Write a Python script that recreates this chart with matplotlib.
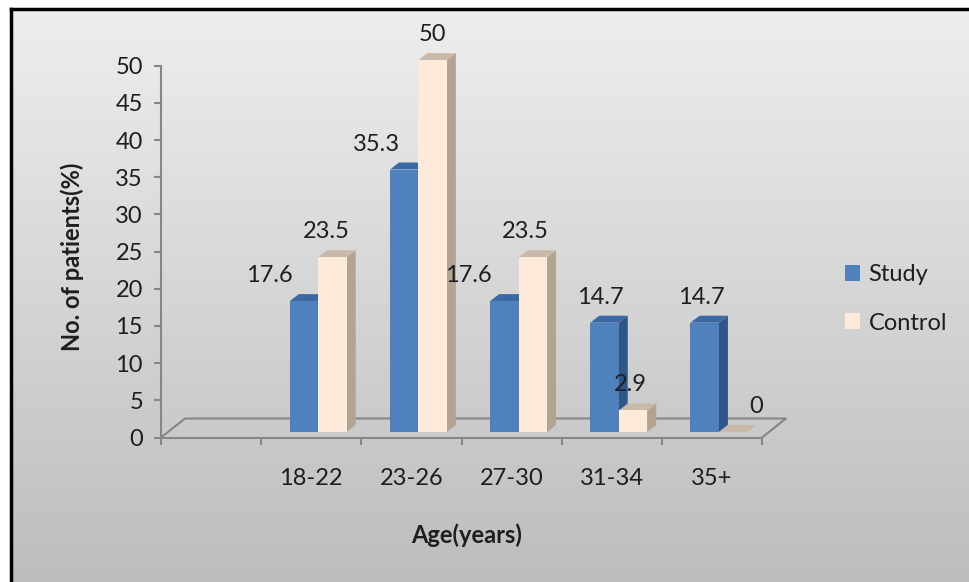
import numpy as np
import matplotlib
matplotlib.use("Agg")
import matplotlib.pyplot as plt
from matplotlib.patches import Polygon, Patch
from matplotlib.transforms import ScaledTranslation

plt.rcParams['font.family'] = ['Lato', 'DejaVu Sans']

#####################################################################
categories = ['18-22', '23-26', '27-30', '31-34', '35+']
study = [17.6, 35.3, 17.6, 14.7, 14.7]
control = [23.5, 50, 23.5, 2.9, 0]
series_names = ['Study', 'Control']

#####################################################################
W, H, DPI = 969, 582, 100
fontsize = 17
txtcolor = '#1e1e1e'
axcolor = '#868686'

# (front, top, side) colours for each series
faces = [('#4F81BD', '#3C69A3', '#2E5687'),
         ('#FDEADA', '#C9B9A8', '#B3A393')]

# per-label horizontal nudges in px (Excel moves a few labels sideways)
nudge = [[-34, -5], [-27, 1], [-35, -6], [-3, -2], [-2, 24]]

#####################################################################
fig = plt.figure(figsize=(W / DPI, H / DPI), dpi=DPI)
fig.patch.set_facecolor('white')

# gradient chart area with black frame on left/top
bg = fig.add_axes([11 / W, 0, 1 - 11 / W, 1 - 9 / H])
grad = np.linspace(0, 1, 256).reshape(-1, 1)
cmap = matplotlib.colors.LinearSegmentedColormap.from_list('bg', ['#eeeeee', '#bdbdbd'])
bg.imshow(grad, aspect='auto', cmap=cmap, extent=[0, 1, 1, 0])
bg.set_xticks([])
bg.set_yticks([])
for s in ['right', 'bottom']:
    bg.spines[s].set_visible(False)
for s in ['left', 'top']:
    bg.spines[s].set_color('black')
    bg.spines[s].set_linewidth(2.5)

#####################################################################
x0, x1 = 161, 762
y0, y1 = 437.5, 65.7
ax = fig.add_axes([x0 / W, 1 - y0 / H, (x1 - x0) / W, (y0 - y1) / H])
ax.patch.set_alpha(0)
n = len(categories)
ax.set_xlim(-1.5, n - 0.5)
ax.set_ylim(0, 50)

pxx = (x1 - x0) / (n + 1)      # px per category
pxy = (y0 - y1) / 50.0         # px per unit

# floor outline (depth 24 px right, 19 px up)
fdx, fdy = 24 / pxx, 19 / pxy
ax.plot([-1.5, -1.5 + fdx, n - 0.5 + fdx, n - 0.5], [0, fdy, fdy, 0],
        color=axcolor, lw=1.5, clip_on=False, zorder=1)

# bars sit half-way into the floor
shift = ax.transData + ScaledTranslation(7 / DPI, 5.5 / DPI, fig.dpi_scale_trans)
bw = 0.284
ddx, ddy = 9 / pxx, 7 / pxy

for i in range(n):
    for k, vals in enumerate([study, control]):
        v = vals[i]
        left = i - bw + k * bw
        right = left + bw
        front, top, side = faces[k]
        ax.add_patch(Polygon([[right, 0], [right + ddx, ddy], [right + ddx, v + ddy], [right, v]],
                             closed=True, fc=side, ec='none', transform=shift, clip_on=False, zorder=3))
        ax.add_patch(Polygon([[left, v], [left + ddx, v + ddy], [right + ddx, v + ddy], [right, v]],
                             closed=True, fc=top, ec='none', transform=shift, clip_on=False, zorder=3))
        ax.bar(left, v, width=bw, align='edge', color=front, transform=shift, clip_on=False, zorder=3)
        ax.annotate(f"{v:g}", xy=(left + bw / 2, v), xycoords=shift,
                    xytext=((nudge[i][k] - 1) * 72 / DPI, 25.5 * 72 / DPI), textcoords='offset points',
                    ha='center', va='center', fontsize=fontsize, color=txtcolor, zorder=5)

#####################################################################
for s in ['top', 'right']:
    ax.spines[s].set_visible(False)
for s in ['left', 'bottom']:
    ax.spines[s].set_color(axcolor)
    ax.spines[s].set_linewidth(1.5)

ax.set_yticks(np.arange(0, 51, 5))
ax.tick_params(axis='y', length=5, width=1.5, color=axcolor, pad=8,
               labelsize=fontsize, labelcolor=txtcolor)

ax.set_xticks(np.arange(-1.5, n, 1.0))
ax.set_xticklabels([])
ax.tick_params(axis='x', which='major', length=5, width=1.5, color=axcolor)
ax.set_xticks(np.arange(n), minor=True)
ax.set_xticklabels(categories, minor=True)
ax.tick_params(axis='x', which='minor', length=0, pad=22,
               labelsize=fontsize, labelcolor=txtcolor)

fig.text(72 / W, 1 - 257 / H, "No. of patients(%)", rotation=90, ha='center', va='center',
         fontsize=fontsize, fontweight='bold', color=txtcolor)
fig.text(467 / W, 1 - 535 / H, "Age(years)", ha='center', va='center',
         fontsize=fontsize, fontweight='bold', color=txtcolor)

handles = [Patch(fc=faces[0][0]), Patch(fc=faces[1][0])]
fig.legend(handles, series_names, loc='center left', bbox_to_anchor=(845 / W, 1 - 299 / H),
           frameon=False, fontsize=fontsize, handlelength=0.64, handleheight=0.64,
           handletextpad=0.35, labelspacing=1.15, borderpad=0, borderaxespad=0,
           labelcolor=txtcolor)

fig.savefig("out.png", dpi=DPI)
